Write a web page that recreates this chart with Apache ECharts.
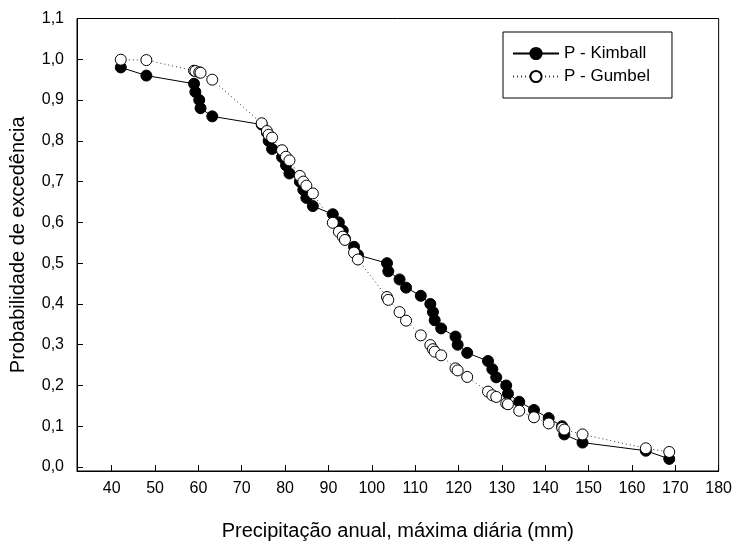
<!DOCTYPE html>
<html>
<head>
<meta charset="utf-8">
<script src="https://cdn.jsdelivr.net/npm/echarts@6/dist/echarts.min.js"></script>
<style>html,body{margin:0;padding:0;background:#fff}#c{width:735px;height:546px}</style>
</head>
<body>
<div id="c"></div>
<script>
// Precipitação anual máxima diária (mm), ordenada
var precip = [42.1, 48.0, 59.0, 59.3, 60.2, 60.5, 63.2, 74.6, 75.8, 76.2,
  77.0, 79.3, 80.2, 81.0, 83.4, 84.2, 84.9, 86.4, 91.0, 92.4,
  93.3, 93.8, 95.9, 96.8, 103.5, 103.8, 106.4, 107.9, 111.3, 113.5,
  114.1, 114.5, 116.0, 119.3, 119.8, 122.0, 126.8, 127.8, 128.7, 131.0,
  131.4, 134.0, 137.4, 140.8, 143.9, 144.4, 148.6, 163.2, 168.6];
var pKimball = [0.98, 0.96, 0.94, 0.92, 0.90, 0.88, 0.86, 0.84, 0.82, 0.80,
  0.78, 0.76, 0.74, 0.72, 0.70, 0.68, 0.66, 0.64, 0.62, 0.60,
  0.58, 0.56, 0.54, 0.52, 0.50, 0.48, 0.46, 0.44, 0.42, 0.40,
  0.38, 0.36, 0.34, 0.32, 0.30, 0.28, 0.26, 0.24, 0.22, 0.20,
  0.18, 0.16, 0.14, 0.12, 0.10, 0.08, 0.06, 0.04, 0.02];
var pGumbel = [0.999, 0.998, 0.972, 0.971, 0.968, 0.967, 0.950, 0.843, 0.824, 0.815,
  0.808, 0.777, 0.761, 0.752, 0.714, 0.700, 0.690, 0.671, 0.599, 0.577,
  0.565, 0.557, 0.526, 0.509, 0.417, 0.410, 0.380, 0.359, 0.323, 0.299,
  0.289, 0.283, 0.274, 0.242, 0.237, 0.221, 0.185, 0.176, 0.172, 0.156,
  0.154, 0.138, 0.122, 0.107, 0.096, 0.092, 0.080, 0.046, 0.037];
var xTicks = [40, 50, 60, 70, 80, 90, 100, 110, 120, 130, 140, 150, 160, 170, 180];
var yTicks = [0, 0.1, 0.2, 0.3, 0.4, 0.5, 0.6, 0.7, 0.8, 0.9, 1.0, 1.1];

function pairs(xs, ys) { return xs.map(function (x, i) { return [x, ys[i]]; }); }

var FONT = '"Liberation Sans", Arial, sans-serif';
var chart = echarts.init(document.getElementById('c'));
chart.setOption({
  animation: false,
  backgroundColor: '#fff',
  grid: { left: 77, right: 16, top: 18.5, bottom: 68, show: true, borderColor: '#000', borderWidth: 1, backgroundColor: 'transparent' },
  legend: {
    orient: 'vertical', left: 503, top: 32,
    padding: [13, 22, 13, 9], itemGap: 6,
    itemWidth: 46, itemHeight: 14,
    borderColor: '#000', borderWidth: 1,
    textStyle: { fontFamily: FONT, fontSize: 17, color: '#000' },
    data: ['P - Kimball', 'P - Gumbel']
  },
  xAxis: {
    type: 'value', min: 32, max: 180,
    name: 'Precipitação anual, máxima diária (mm)', nameLocation: 'middle', nameGap: 50,
    nameTextStyle: { fontFamily: FONT, fontSize: 20, color: '#000' },
    axisLine: { onZero: false, lineStyle: { color: '#000', width: 1 } },
    axisTick: { inside: true, length: 6, customValues: xTicks, lineStyle: { color: '#000' } },
    axisLabel: { customValues: xTicks, margin: 10, fontFamily: FONT, fontSize: 16, color: '#000' },
    splitLine: { show: false }
  },
  yAxis: {
    type: 'value', min: -0.0097, max: 1.1,
    name: 'Probabilidade de excedência', nameLocation: 'middle', nameGap: 49,
    nameTextStyle: { fontFamily: FONT, fontSize: 20, color: '#000' },
    axisLine: { show: true, onZero: false, lineStyle: { color: '#000', width: 1 } },
    axisTick: { show: true, inside: true, length: 6, customValues: yTicks, lineStyle: { color: '#000' } },
    axisLabel: { customValues: yTicks, margin: 13, fontFamily: FONT, fontSize: 16, color: '#000',
      formatter: function (v) { return v.toFixed(1).replace('.', ','); } },
    splitLine: { show: false }
  },
  series: [
    {
      name: 'P - Kimball', type: 'line', data: pairs(precip, pKimball),
      symbol: 'circle', symbolSize: 11, showAllSymbol: true,
      lineStyle: { color: '#000', width: 1 },
      itemStyle: { color: '#000', borderColor: '#000', borderWidth: 1 },
      z: 2
    },
    {
      name: 'P - Gumbel', type: 'line', data: pairs(precip, pGumbel),
      symbol: 'circle', symbolSize: 11, showAllSymbol: true,
      lineStyle: { color: '#333', width: 1, type: [1, 3] },
      itemStyle: { color: '#fff', borderColor: '#000', borderWidth: 1 },
      z: 3
    }
  ]
});
</script>
</body>
</html>
